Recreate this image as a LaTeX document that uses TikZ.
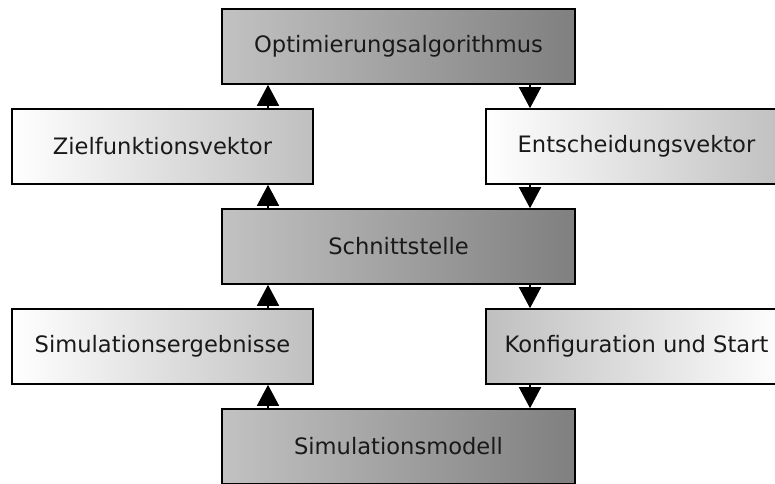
\documentclass[tikz,border=0pt]{standalone}
\usepackage{fontspec}
\setmainfont{DejaVu Sans}
\usetikzlibrary{arrows.meta}
\begin{document}
\begin{tikzpicture}[x=1pt,y=1pt,
  box/.style={draw=black,line width=1.6pt,minimum height=75pt,inner sep=0pt,
    font=\fontsize{22.6}{26}\selectfont,text=black!90},
  core/.style={box,minimum width=353pt,left color=black!24,right color=black!50},
  side/.style={box,minimum width=301pt,left color=white,right color=black!25},
  sider/.style={box,minimum width=301pt,left color=black!25,right color=white},
  flow/.style={line width=1.6pt,-{Triangle[width=22pt,length=21pt]}}]
\useasboundingbox (0,0) rectangle (775,-483);
% central column
\node[core] (opt) at (398.5,-46.5) {Optimierungsalgorithmus};
\node[core] (sch) at (398.5,-246.5) {Schnittstelle};
\node[core] (sim) at (398.5,-446.5) {Simulationsmodell};
% left column (results travel upwards)
\node[side] (zfv) at (162.5,-146.5) {Zielfunktionsvektor};
\node[side] (erg) at (162.5,-346.5) {Simulationsergebnisse};
% right column (decisions travel downwards)
\node[side] (ent) at (636.5,-146.5) {Entscheidungsvektor};
\node[sider] (kon) at (636.5,-346.5) {Konfiguration und Start};
% connector positions
\coordinate (lx) at (268,0);
\coordinate (rx) at (530,0);
\draw[flow] (sim.north -| lx) -- (erg.south -| lx);
\draw[flow] (erg.north -| lx) -- (sch.south -| lx);
\draw[flow] (sch.north -| lx) -- (zfv.south -| lx);
\draw[flow] (zfv.north -| lx) -- (opt.south -| lx);
\draw[flow] (opt.south -| rx) -- (ent.north -| rx);
\draw[flow] (ent.south -| rx) -- (sch.north -| rx);
\draw[flow] (sch.south -| rx) -- (kon.north -| rx);
\draw[flow] (kon.south -| rx) -- (sim.north -| rx);
\end{tikzpicture}
\end{document}
